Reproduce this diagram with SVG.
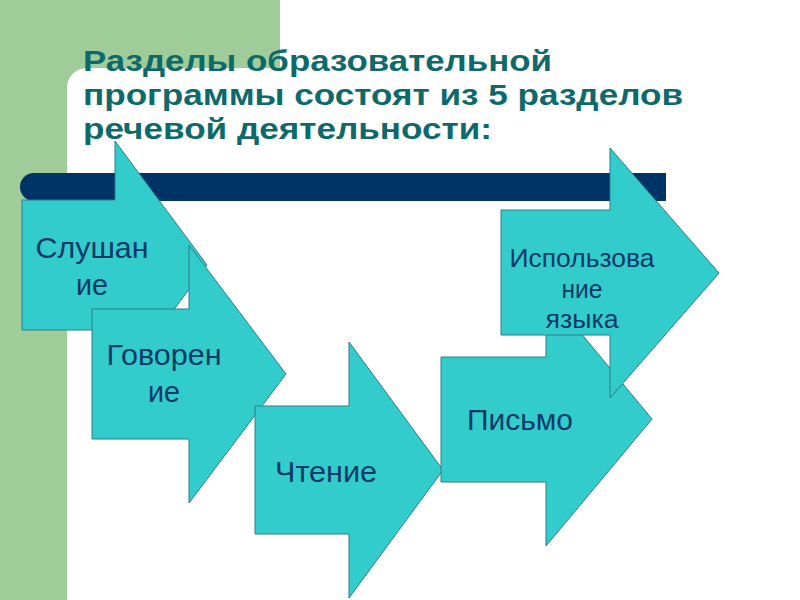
<svg xmlns="http://www.w3.org/2000/svg" width="800" height="600" viewBox="0 0 800 600">
<style>
.arrow{fill:#33CCCC;stroke:#2B7E8A;stroke-width:1;stroke-linejoin:miter}
.lbl{font-family:"Liberation Sans",Arial,sans-serif;font-size:30px;fill:#0B3A66;text-anchor:middle}
.lbl2{font-family:"Liberation Sans",Arial,sans-serif;font-size:26px;fill:#0B3A66;text-anchor:middle}
.title{font-family:"Liberation Sans",Arial,sans-serif;font-size:30px;font-weight:bold;fill:#0E6A6A}
</style>
<rect x="0" y="0" width="800" height="600" fill="#FFFFFF"/>
<path d="M0,0 H280 V68 H87 A20,20 0 0 0 67,88 V600 H0 Z" fill="#9FCC99"/>
<g id="title">
<text class="title" x="83" y="71" textLength="469" lengthAdjust="spacingAndGlyphs">Разделы образовательной</text>
<text class="title" x="83" y="105" textLength="600" lengthAdjust="spacingAndGlyphs">программы состоят из 5 разделов</text>
<text class="title" x="83" y="139" textLength="409" lengthAdjust="spacingAndGlyphs">речевой деятельности:</text>
</g>
<g id="bar">
<path d="M34,173 H666 V201 H34 A14,14 0 0 1 34,173 Z" fill="#003366"/>
</g>
<g id="connectors"></g>
<g id="node-slushanie">
<path class="arrow" d="M22,200 H115 V141 L207,265 L115,389 V330 H22 Z"/>
<text class="lbl" x="92" y="258" textLength="113" lengthAdjust="spacingAndGlyphs">Слушан</text>
<text class="lbl" x="92" y="295" textLength="32" lengthAdjust="spacingAndGlyphs">ие</text>
</g>
<g id="node-govorenie">
<path class="arrow" d="M92,309 H189 V245 L286,374 L189,503 V439 H92 Z"/>
<text class="lbl" x="164" y="365" textLength="115" lengthAdjust="spacingAndGlyphs">Говорен</text>
<text class="lbl" x="164" y="402" textLength="32" lengthAdjust="spacingAndGlyphs">ие</text>
</g>
<g id="node-chtenie">
<path class="arrow" d="M255,406 H349 V342 L443,470 L349,598 V534 H255 Z"/>
<text class="lbl" x="326" y="482" textLength="102" lengthAdjust="spacingAndGlyphs">Чтение</text>
</g>
<g id="node-pismo">
<path class="arrow" d="M441,357 H546 V291 L652,419 L546,546 V482 H441 Z"/>
<text class="lbl" x="520" y="430" textLength="106" lengthAdjust="spacingAndGlyphs">Письмо</text>
</g>
<g id="node-ispolzovanie">
<path class="arrow" d="M501,210 H610 V148 L719,273 L610,398 V335 H501 Z"/>
<text class="lbl2" x="582" y="267" textLength="145" lengthAdjust="spacingAndGlyphs">Использова</text>
<text class="lbl2" x="582" y="298" textLength="41" lengthAdjust="spacingAndGlyphs">ние</text>
<text class="lbl2" x="582" y="328" textLength="73" lengthAdjust="spacingAndGlyphs">языка</text>
</g>
</svg>
